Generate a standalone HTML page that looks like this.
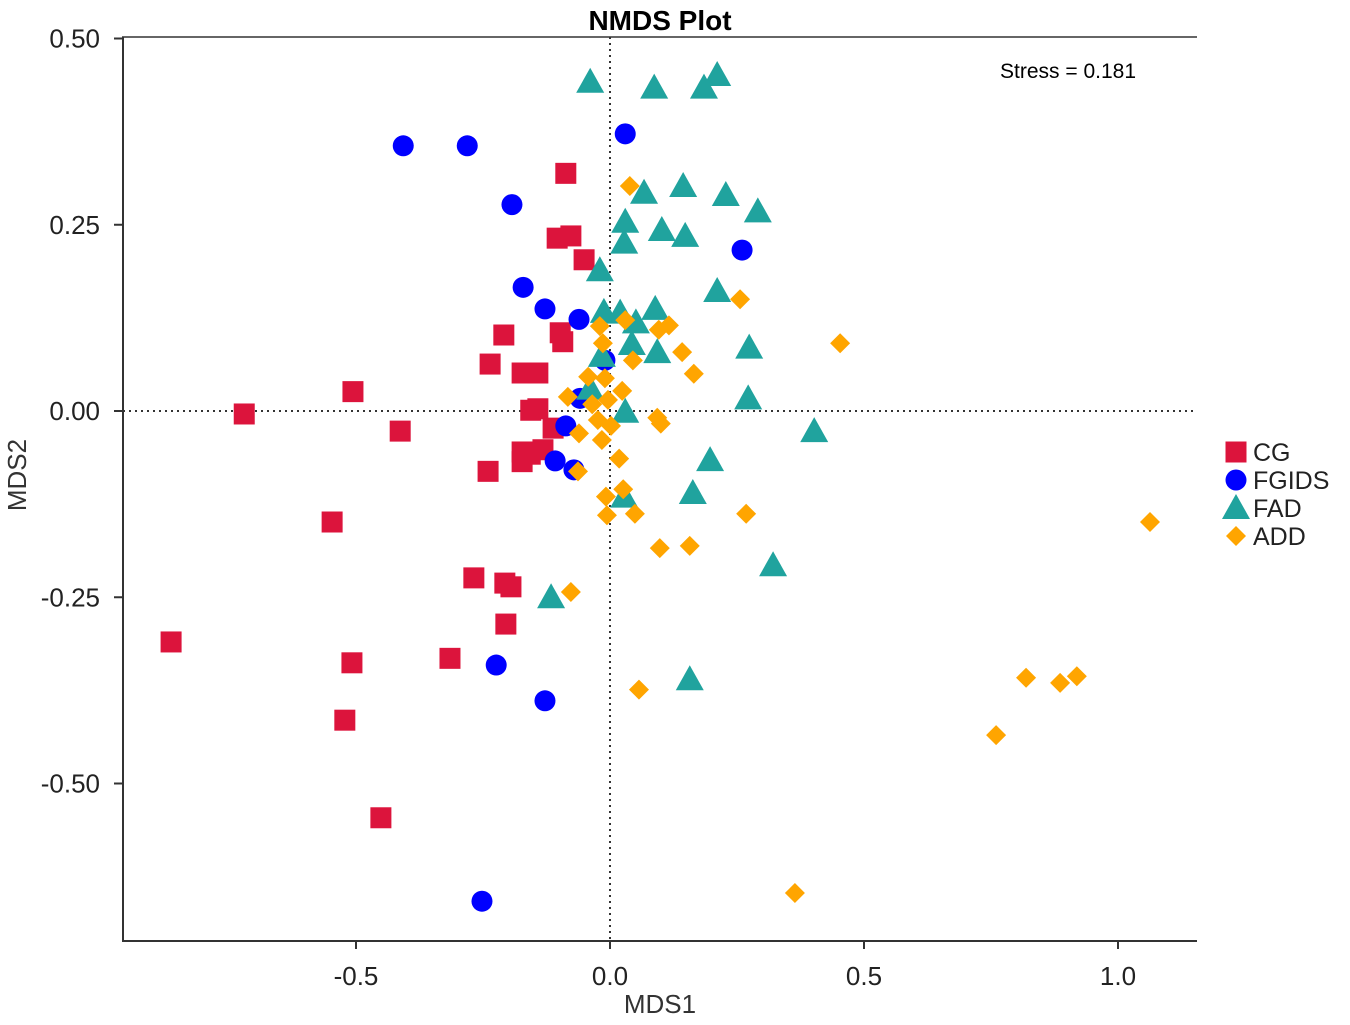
<!DOCTYPE html>
<html><head><meta charset="utf-8"><style>
body{margin:0;background:#fff}
svg text{font-family:"Liberation Sans",sans-serif}
</style></head><body>
<svg id="c" width="1350" height="1020" xmlns="http://www.w3.org/2000/svg">
<text x="660" y="30" font-size="28" font-weight="bold" text-anchor="middle">NMDS Plot</text>
<text x="1000" y="78" font-size="21">Stress = 0.181</text>
<text x="660" y="1013" font-size="26" text-anchor="middle" fill="#333">MDS1</text>
<text x="26" y="475" font-size="26" text-anchor="middle" fill="#333" transform="rotate(-90 26 475)">MDS2</text>
<g id="axes"></g><g id="marks"></g><g id="legend"></g>
</svg>
<script>
const xTicks=[-0.5,0,0.5,1.0];
const xTickLabels=["-0.5","0.0","0.5","1.0"];
const yTicks=[0.5,0.25,0,-0.25,-0.5];
const yTickLabels=["0.50","0.25","0.00","-0.25","-0.50"];
const groups=["CG","FGIDS","FAD","ADD"];
const cgX=[-0.72,-0.506,-0.413,-0.547,-0.864,-0.508,-0.522,-0.451,-0.315,-0.268,-0.207,-0.195,-0.205,-0.087,-0.104,-0.077,-0.051,-0.209,-0.236,-0.098,-0.093,-0.173,-0.142,-0.156,-0.142,-0.112,-0.240,-0.173,-0.173,-0.132,-0.157];
const cgY=[-0.004,0.026,-0.027,-0.149,-0.310,-0.338,-0.415,-0.546,-0.332,-0.224,-0.231,-0.236,-0.286,0.319,0.232,0.235,0.203,0.102,0.063,0.105,0.093,0.051,0.051,0.001,0.003,-0.023,-0.081,-0.055,-0.068,-0.052,-0.058];
const fgX=[-0.407,-0.281,-0.193,0.030,0.260,-0.171,-0.128,-0.061,-0.010,-0.059,-0.087,-0.108,-0.071,-0.224,-0.128,-0.252];
const fgY=[0.356,0.356,0.277,0.372,0.216,0.166,0.137,0.123,0.068,0.017,-0.020,-0.067,-0.079,-0.341,-0.389,-0.658];
const fadX=[-0.039,0.087,0.185,0.211,0.067,0.144,0.228,0.291,0.030,0.028,0.102,0.148,-0.020,0.211,-0.012,0.020,0.089,0.051,0.043,0.093,-0.016,0.274,0.272,0.030,0.402,-0.039,0.197,0.163,0.028,0.321,-0.116,0.157];
const fadY=[0.442,0.434,0.434,0.451,0.293,0.302,0.290,0.268,0.254,0.226,0.243,0.235,0.189,0.161,0.133,0.132,0.137,0.119,0.090,0.079,0.074,0.085,0.017,-0.001,-0.027,0.030,-0.066,-0.110,-0.115,-0.207,-0.250,-0.360];
const addX=[0.039,0.256,0.453,-0.020,0.030,0.096,0.116,-0.014,0.045,0.142,0.165,-0.043,-0.010,-0.083,-0.035,-0.004,0.024,-0.061,-0.024,-0.016,0.002,0.093,0.100,0.018,-0.063,-0.008,0.026,-0.006,0.049,0.268,0.098,0.157,1.063,-0.077,0.057,0.819,0.886,0.919,0.760,0.364];
const addY=[0.302,0.150,0.091,0.114,0.122,0.109,0.115,0.091,0.068,0.079,0.050,0.046,0.044,0.019,0.009,0.015,0.027,-0.030,-0.012,-0.039,-0.020,-0.009,-0.017,-0.064,-0.081,-0.115,-0.105,-0.140,-0.138,-0.138,-0.184,-0.181,-0.149,-0.243,-0.374,-0.358,-0.365,-0.356,-0.435,-0.647];
const NS="http://www.w3.org/2000/svg";
const sx=v=>610+v*508, sy=v=>411-v*745;
function mk(t,a,p){const e=document.createElementNS(NS,t);for(const k in a)e.setAttribute(k,a[k]);p.appendChild(e);return e;}
const ax=document.getElementById('axes'),mg=document.getElementById('marks'),lg=document.getElementById('legend');
let l=mk('line',{x1:123,y1:37,x2:123,y2:941,stroke:'#333','stroke-width':2},ax);


l=mk('line',{x1:122,y1:941,x2:1197,y2:941,stroke:'#333','stroke-width':2},ax);


l=mk('line',{x1:122,y1:37,x2:1197,y2:37,stroke:'#333','stroke-width':1.5},ax);


l=mk('line',{x1:sx(0),y1:37,x2:sx(0),y2:941,stroke:'#333','stroke-width':2,'stroke-dasharray':'2,4'},ax);


l=mk('line',{x1:123,y1:sy(0),x2:1197,y2:sy(0),stroke:'#333','stroke-width':2,'stroke-dasharray':'2,4'},ax);


xTicks.forEach((v,i)=>{const t=mk('line',{x1:sx(v),y1:941,x2:sx(v),y2:949,stroke:'#333','stroke-width':2},ax);


const tx=mk('text',{x:sx(v),y:985,'font-size':26,'text-anchor':'middle',fill:'#222'},ax);tx.textContent=xTickLabels[i];

});
yTicks.forEach((v,i)=>{const t=mk('line',{x1:114,y1:sy(v),x2:123,y2:sy(v),stroke:'#333','stroke-width':2},ax);


const tx=mk('text',{x:100,y:sy(v)+9,'font-size':26,'text-anchor':'end',fill:'#222'},ax);tx.textContent=yTickLabels[i];

});
function shape(k,x,y,p){
 if(k==0)return mk('rect',{x:x-10.5,y:y-10.5,width:21,height:21,fill:'#DC143C'},p);
 if(k==1)return mk('circle',{cx:x,cy:y,r:10.5,fill:'#0000FF'},p);
 if(k==2)return mk('polygon',{points:`${x},${y-14} ${x+14},${y+11} ${x-14},${y+11}`,fill:'#20A39E'},p);
 return mk('polygon',{points:`${x},${y-10} ${x+10},${y} ${x},${y+10} ${x-10},${y}`,fill:'#FFA500'},p);
}
const sets=[[cgX,cgY],[fgX,fgY],[fadX,fadY],[addX,addY]];
const nm=['cg-point','fgids-point','fad-point','add-point'];
sets.forEach((s,k)=>s[0].forEach((v,i)=>{const e=shape(k,sx(v),sy(s[1][i]),mg);

}));
groups.forEach((g,k)=>{const y=452+k*28;const e=shape(k,1236,y,lg);


const t=mk('text',{x:1253,y:y+9,'font-size':25,fill:'#222'},lg);t.textContent=g;

});
</script>
</body></html>
